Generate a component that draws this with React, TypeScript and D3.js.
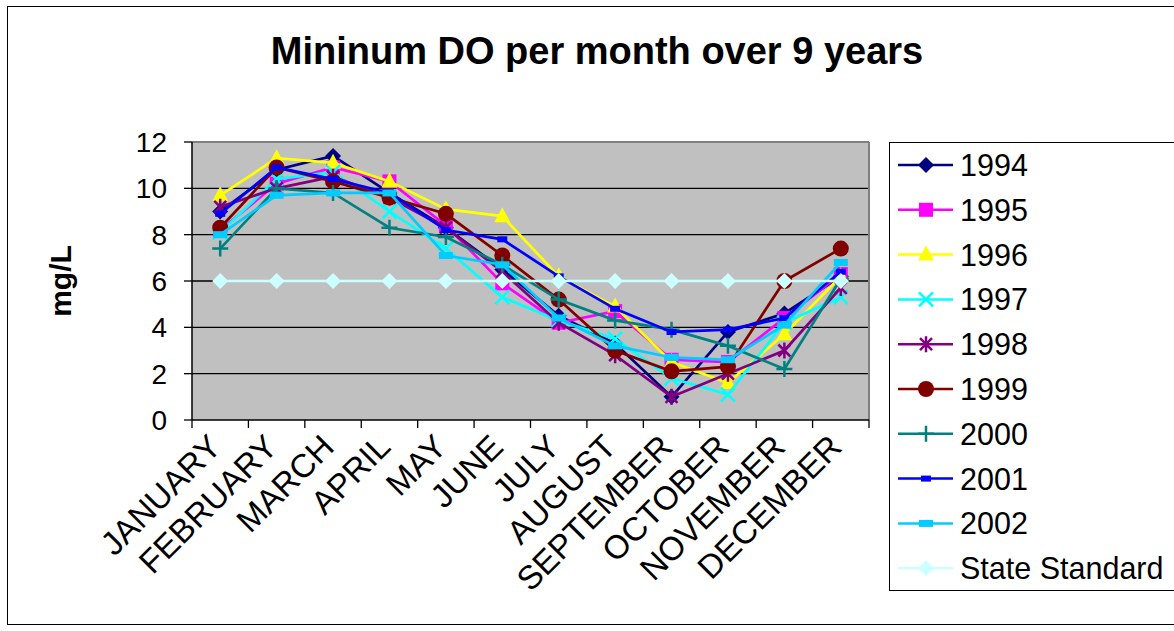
import React from "react";
import * as d3 from "d3";

const months = ["JANUARY","FEBRUARY","MARCH","APRIL","MAY","JUNE","JULY","AUGUST","SEPTEMBER","OCTOBER","NOVEMBER","DECEMBER"];
const yTicks = [0, 2, 4, 6, 8, 10, 12];

const s1994 = [9.0, 10.8, 11.4, 9.8, 8.3, 6.5, 4.5, 3.3, 1.0, 3.8, 4.6, 6.2];
const s1995 = [8.2, 10.2, 10.9, 10.3, 8.4, 5.9, 4.2, 4.7, 2.6, 2.5, 4.4, 6.3];
const s1996 = [9.7, 11.3, 11.1, 10.3, 9.1, 8.8, 6.2, 4.9, 2.5, 1.6, 3.7, 6.2];
const s1997 = [8.1, 10.4, 10.7, 9.0, 7.4, 5.3, 4.3, 3.5, 1.8, 1.1, 4.2, 5.3];
const s1998 = [9.2, 10.0, 10.5, 9.6, 8.3, 6.4, 4.2, 2.8, 1.0, 2.0, 3.0, 5.7];
const s1999 = [8.3, 10.9, 10.3, 9.6, 8.9, 7.1, 5.2, 3.0, 2.1, 2.3, 6.0, 7.4];
const s2000 = [7.4, 10.0, 9.8, 8.3, 7.9, 6.7, 5.2, 4.3, 3.9, 3.2, 2.2, 6.1];
const s2001 = [8.9, 10.9, 10.4, 9.8, 8.2, 7.8, 6.2, 4.8, 3.8, 3.9, 4.4, 6.4];
const s2002 = [8.0, 9.7, 9.8, 9.8, 7.1, 6.7, 4.4, 3.2, 2.7, 2.6, 4.1, 6.8];
const standard = [6, 6, 6, 6, 6, 6, 6, 6, 6, 6, 6, 6];

const seriesNames = ["1994","1995","1996","1997","1998","1999","2000","2001","2002","State Standard"];
const seriesValues = [s1994, s1995, s1996, s1997, s1998, s1999, s2000, s2001, s2002, standard];
const seriesColors = ["#000080","#FF00FF","#FFFF00","#00FFFF","#800080","#800000","#008080","#0000FF","#00CCFF","#CCFFFF"];
const seriesMarkers = ["diamond","square","triangle","x","star","circle","plus","dash","bar","diamond"];

const FONT = "'Liberation Sans', Arial, sans-serif";

function Marker({ type, x, y, color }: { type: string; x: number; y: number; color: string }) {
  switch (type) {
    case "diamond":
      return <path d={`M${x},${y - 8}L${x + 8},${y}L${x},${y + 8}L${x - 8},${y}Z`} fill={color} />;
    case "square":
      return <rect x={x - 7} y={y - 7} width={14} height={14} fill={color} />;
    case "triangle":
      return <path d={`M${x},${y - 9}L${x + 8},${y + 6}L${x - 8},${y + 6}Z`} fill={color} />;
    case "x":
      return <path d={`M${x - 7},${y - 7}L${x + 7},${y + 7}M${x + 7},${y - 7}L${x - 7},${y + 7}`} stroke={color} strokeWidth={2.5} />;
    case "star":
      return <path d={`M${x - 6},${y - 6}L${x + 6},${y + 6}M${x + 6},${y - 6}L${x - 6},${y + 6}M${x},${y - 8}L${x},${y + 8}`} stroke={color} strokeWidth={2.5} />;
    case "circle":
      return <circle cx={x} cy={y} r={8} fill={color} />;
    case "plus":
      return <path d={`M${x - 8},${y}L${x + 8},${y}M${x},${y - 8}L${x},${y + 8}`} stroke={color} strokeWidth={2.5} />;
    case "dash":
      return <rect x={x - 5} y={y - 3} width={10} height={6} fill={color} />;
    case "bar":
      return <rect x={x - 7} y={y - 3.5} width={14} height={7} fill={color} />;
  }
  return null;
}

export default function App() {
  const left = 192, right = 869, top = 142, bottom = 420;
  const x = d3.scaleBand<string>().domain(months).range([left, right]);
  const y = d3.scaleLinear().domain([0, 12]).range([bottom, top]);
  const cx = (m: string) => (x(m) as number) + x.bandwidth() / 2;
  const line = d3.line<number>().x((_, i) => cx(months[i])).y((v) => y(v));

  const legX = 889, legY = 142, legW = 300, legH = 448;
  const legStep = 44.8;

  return (
    <svg width={1174} height={631} style={{ position: "absolute", left: 0, top: 0, background: "#fff" }} fontFamily={FONT}>
      <rect x={7.5} y={6.5} width={1200} height={618} fill="#fff" stroke="#000" strokeWidth={1} />
      <text x={597} y={64} textAnchor="middle" fontSize={38} fontWeight="bold">Mininum DO per month over 9 years</text>

      <rect x={left} y={top} width={right - left} height={bottom - top} fill="#C0C0C0" />
      {yTicks.filter((t) => t > 0 && t < 12).map((t) => (
        <line key={t} x1={left} x2={right} y1={y(t)} y2={y(t)} stroke="#000" strokeWidth={1.3} />
      ))}
      <line x1={left} x2={right} y1={top} y2={top} stroke="#808080" strokeWidth={2} />
      <line x1={right} x2={right} y1={top} y2={bottom} stroke="#808080" strokeWidth={2} />
      <line x1={left} x2={left} y1={top} y2={bottom} stroke="#000" strokeWidth={1.5} />
      <line x1={left} x2={right} y1={bottom} y2={bottom} stroke="#000" strokeWidth={1.5} />
      {yTicks.map((t) => (
        <g key={t}>
          <line x1={left - 8} x2={left} y1={y(t)} y2={y(t)} stroke="#000" strokeWidth={1.3} />
          <text x={167} y={y(t)} dy="0.36em" textAnchor="end" fontSize={28}>{t}</text>
        </g>
      ))}
      {months.map((m) => (
        <line key={m} x1={x(m) as number} x2={x(m) as number} y1={bottom} y2={bottom + 8} stroke="#000" strokeWidth={1.3} />
      ))}
      <line x1={right} x2={right} y1={bottom} y2={bottom + 8} stroke="#000" strokeWidth={1.3} />
      {months.map((m) => (
        <text key={m} transform={`translate(${cx(m) - 14},${bottom + 12}) rotate(-45)`} textAnchor="end" dy="0.72em" fontSize={33}>{m}</text>
      ))}
      <text transform={`translate(60,281) rotate(-90)`} textAnchor="middle" dy="0.36em" fontSize={30} fontWeight="bold">mg/L</text>

      {seriesValues.map((vals, si) => (
        <g key={seriesNames[si]}>
          <path d={line(vals) || ""} fill="none" stroke={seriesColors[si]} strokeWidth={2.7} />
          {vals.map((v, i) => (
            <Marker key={i} type={seriesMarkers[si]} x={cx(months[i])} y={y(v)} color={seriesColors[si]} />
          ))}
        </g>
      ))}

      <rect x={legX + 0.5} y={legY + 0.5} width={legW} height={legH} fill="#fff" stroke="#000" strokeWidth={1} />
      {seriesNames.map((n, i) => {
        const ly = 165 + i * legStep;
        return (
          <g key={n}>
            <line x1={898} x2={953} y1={ly} y2={ly} stroke={seriesColors[i]} strokeWidth={2.5} />
            <Marker type={seriesMarkers[i]} x={926} y={ly} color={seriesColors[i]} />
            <text x={960} y={ly} dy="0.36em" fontSize={30.5}>{n}</text>
          </g>
        );
      })}
    </svg>
  );
}
